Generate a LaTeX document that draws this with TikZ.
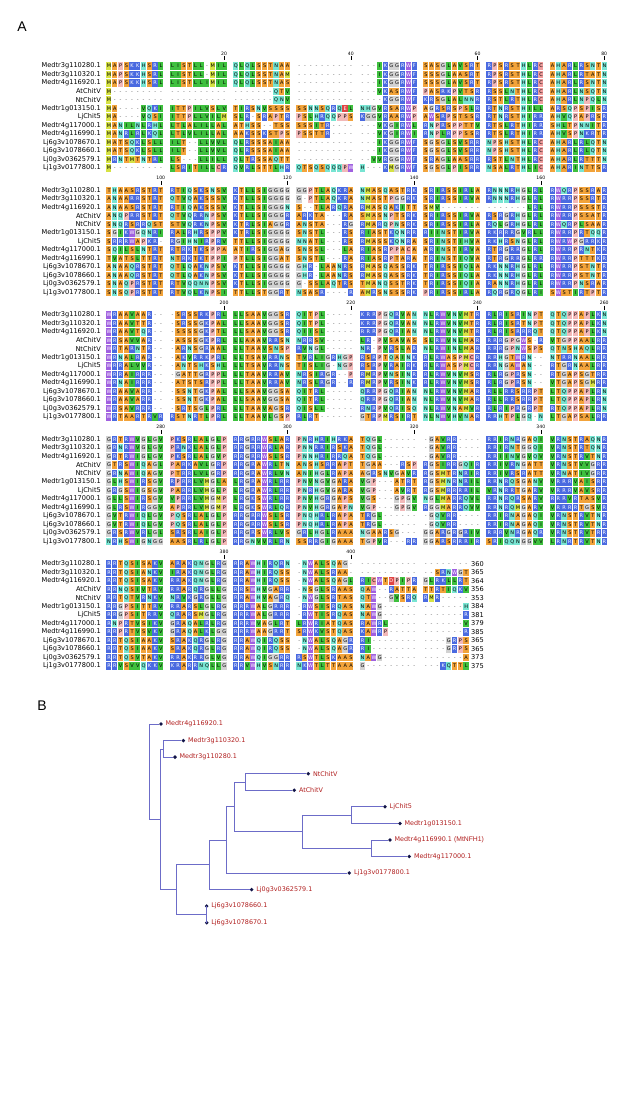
\documentclass[tikz,border=0pt]{standalone}
\usepackage{fontspec}
\setmainfont{DejaVu Sans}
\newfontfamily\panelfont{Liberation Sans}
\usetikzlibrary{positioning}

\newcommand\rescolor[3]{\definecolor{res#1}{HTML}{#2}\colorlet{txt#1}{#3}}
\rescolor{A}{F2A33A}{black}
\rescolor{S}{F2A33A}{black}
\rescolor{T}{F2A33A}{black}
\rescolor{N}{78E4D2}{black}
\rescolor{Q}{78E4D2}{black}
\rescolor{H}{78E4D2}{black}
\rescolor{Y}{78E4D2}{black}
\rescolor{G}{D2D2D2}{black}
\rescolor{P}{F2B8B8}{black}
\rescolor{C}{F09C9C}{black}
\rescolor{L}{3EC03E}{black}
\rescolor{I}{3EC03E}{black}
\rescolor{V}{3EC03E}{black}
\rescolor{M}{D6E244}{black}
\rescolor{F}{4A6AE0}{white}
\rescolor{K}{4A6AE0}{white}
\rescolor{R}{4A6AE0}{white}
\rescolor{D}{E04444}{white}
\rescolor{E}{E04444}{white}
\rescolor{W}{A060E0}{white}
\definecolor{treeline}{HTML}{6C6CC8}
\definecolor{treedot}{HTML}{121448}
\definecolor{treelabel}{HTML}{B01E1E}

\newcount\rescol
\newcount\grpcnt
\newcount\grpidx
\newdimen\cellx
\newdimen\celly
\newcommand\blocky{0}
\newcommand\setblock[1]{\renewcommand\blocky{#1}}
\newcommand\alnrow[3]{%
  \pgfmathsetmacro\rowy{\blocky+(#1-1)*8.5}%
  \pgfmathsetlength\celly{-(\rowy+3.9)*1pt}%
  \node[seqname] at (101,\rowy) {#2};%
  \global\rescol=0 \global\grpcnt=0 \global\grpidx=0
  \begin{pgfscope}\cellloop#3\relax\end{pgfscope}%
  \node[seqtext] at (106,\rowy+1.8) {\global\grpcnt=0 \charloop#3\relax};}
\def\cellloop#1{\ifx\relax#1\else\drawcell#1\expandafter\cellloop\fi}
\def\drawcell#1{%
  \cellx=5.76pt
  \multiply\cellx by \numexpr\rescol+\grpidx\relax
  \advance\cellx by 106.28pt
  \ifx-#1\else
    \pgfsetfillcolor{res#1}%
    \pgfpathrectangle{\pgfqpoint{\cellx}{\celly}}{\pgfqpoint{5.2pt}{7.8pt}}%
    \pgfusepath{fill}%
  \fi
  \global\advance\rescol by 1
  \global\advance\grpcnt by 1
  \ifnum\grpcnt=10 \global\grpcnt=0 \global\advance\grpidx by 1 \fi}
\def\charloop#1{\ifx\relax#1\else\drawch#1\expandafter\charloop\fi}
\def\drawch#1{%
  \hbox to 5.76pt{\hss\ifx-#1\textcolor{black!70}{-}\else\textcolor{txt#1}{#1}\fi\hss}%
  \global\advance\grpcnt by 1
  \ifnum\grpcnt=10 \global\grpcnt=0 \kern5.76pt\fi}

\begin{document}
\begin{tikzpicture}[x=1pt,y=-1pt,
    seqname/.style={anchor=east,inner sep=0,font=\fontsize{6.6}{7}\selectfont},
    seqtext/.style={anchor=base west,inner sep=0,font=\fontsize{5}{5}\selectfont},
    ticklabel/.style={inner sep=0,font=\fontsize{4.6}{5}\selectfont},
    tickmark/.style={line width=0.4pt},
    endnum/.style={anchor=west,inner sep=0,font=\fontsize{6.6}{7}\selectfont},
    panel/.style={inner sep=0,font=\panelfont\fontsize{14}{14}\selectfont},
    branch/.style={draw=treeline,line width=0.7pt},
    leaf/.style={circle,fill=treedot,inner sep=0,minimum size=3.8pt},
    leaflabel/.style={inner sep=0,text=treelabel,font=\fontsize{6.4}{7}\selectfont}
    ]
  \useasboundingbox (0,0) rectangle (617,1105);
  \node[panel] (panelA) at (22,27) {A};
  \node[panel] (panelB) at (42,705.5) {B};

  \foreach \y/\c/\t in {66/20/20,66/40/40,66/60/60,66/80/80,
      190.5/10/100,190.5/30/120,190.5/50/140,190.5/70/160,
      315/20/200,315/40/220,315/60/240,315/80/260,
      439.5/10/280,439.5/30/300,439.5/50/320,439.5/70/340,
      564/20/380,564/40/400} {
    \pgfmathsetmacro\tx{108.88+(\c-1+floor((\c-1)/10))*5.76}
    \draw[tickmark] (\tx,\y-9.5) -- (\tx,\y-5.5);
    \node[ticklabel] at (\tx,\y-12.5) {\t};
  }

  \setblock{66}
  \alnrow{1}{Medtr3g110280.1}{MAPSKKHSRL LISTLL-MIL QLQLSSTNAA ---------- ---IKGGRWF SASGLAVSRT RPSRSTHLRC AHARLRSNTN}
  \alnrow{2}{Medtr3g110320.1}{MAPSKKHSRL LISTLL-MIL QLQLSSTNAM ---------- ---IKGGRWF SSSGLAASRT RPSRSTHLRC AHARLRTATN}
  \alnrow{3}{Medtr4g116920.1}{MAPSKKHSRL LISTLLIMIL QLQLSSTNAS ---------- ---IKGGRWF SSSGLAVSRT RPSRSTHLRC AHARLRSNTN}
  \alnrow{4}{AtChitV}{M--------- ---------- -------QTV ---------- ---VKASRWF PASRKPVTSR RSSLNTHLRC AHARLNSQTN}
  \alnrow{5}{NtChitV}{M--------- ---------- -------QNV ---------- ----KGGRWF KRSGLALNNR RSTLRTHLRC AHARLNPQLN}
  \alnrow{6}{Medtr1g013150.1}{MA----VQKI ITTPILVSLV TIRSNVSSSS SSNNSQRQEL NHGVRSARWP AGRSRSPSLR RTNRSTHILL ARSQPSPISR}
  \alnrow{7}{LjChit5}{MA----VQSI ITTPLLVILM SLR-SRAPTR PSLHRQQPPS KGGVRAARWP AWSRPSTSSR RTNRSTHIRR AHVQPAPRSR}
  \alnrow{8}{Medtr4g117000.1}{MANILNLRHL LTLALILLAL ATHSS--TSS SSSITR---- ---VKGIRWL RNPRSPPTTV RTSLRTHIRR SHLTPNNITR}
  \alnrow{9}{Medtr4g116990.1}{MANRLRLKQL LTLVLILLAL AAKSSKSTPS PSSTTR---- ---VKGIRWI RNPLRPPSSR RTSLRTHIRR AHVSPNKRTR}
  \alnrow{10}{Lj6g3v1078670.1}{MATSQKLSLL ILT--LLVVL QLRSSSAIAA ---------- ---IKGGRWF SGSGLSVSRR NPSHSTHLRC AHARLRLQTN}
  \alnrow{11}{Lj6g3v1078660.1}{MATSQKLSLL ILT--LLVVL QLRSSSAIAA ---------- ---IKGGRWF SGSGLSVSRR NPSHSTHLRC AHARLRLQTN}
  \alnrow{12}{Lj0g3v0362579.1}{MRNTMTNTRL LS---LLILL QLTRSSAQTT ---------- --VVRGGRWF SRAGLAASRR RSTLNTHLRC AHARLRTTTN}
  \alnrow{13}{Lj1g3v0177800.1}{M--------- LSRITILLCR QVRLSTTLHR QTSQSQQQPW H---KMGRWF SGSGLPISRR NSALRTHLIC AHARINTTSR}

  \setblock{190.5}
  \alnrow{1}{Medtr3g110280.1}{THAASRSTRT RTIQSKSNSV KTLLSIGGGG GGPTLAQKRA NMASQASTRK SRIRSSIRLA RNNNRHGLRL RWQRPSSRAR}
  \alnrow{2}{Medtr3g110320.1}{ANAARRSTRT QTVQAKSSSV KTLLSIGGGG G-PTLAQKRA NMASTPGGRK SRIRSSIRVA RNNNRHGLRL RWRRPSSRTR}
  \alnrow{3}{Medtr4g116920.1}{ANAASRSTRT RTIQAKSSSV KTLLSIGGGN S--TLARQRA RMASQAKITT SMV------- -------LRL RWRRPSSSTR}
  \alnrow{4}{AtChitV}{ANQPRRSTRT QTVQRRNPSV KTLLSIGGGR ARKTA---RA SMASNPTSRK SRIRSSIRVA RSRGRHGLRL RWRRPSSATR}
  \alnrow{5}{NtChitV}{SNQRSRRQST STVQRKNPSV KTRLSIAGGR ANSTA---RG RMARQPNSRK SRIRSSIRLA RQLGRHGLRL RWQRPLSAAR}
  \alnrow{6}{Medtr1g013150.1}{SGIKWGQNRI RALRHRSPPV KTRLSIGGGG SNSTL---RS RIASTKQNRR RIINSTIRVA RKRRRGVRLL RWRRPRTQQR}
  \alnrow{7}{LjChit5}{SRRRWAPKR- RGIHNIRPRV TTLLSIGGGG NNATL---RS RMASSKQNRA SRINSTIHVA RKHRSNGLRL RWRWPGRRKR}
  \alnrow{8}{Medtr4g117000.1}{SQILSLNTRT RTRKTKSPPA ATIRSIGGAG SNSSL---LA RIASRPPACA ARINSTIRVA RTRGRRGLRL RWRRPRNTKR}
  \alnrow{9}{Medtr4g116990.1}{TVATSLTTRT NTRKTKTPPI PTLLSIGGAT SNSTL---RA RIASRPTARA TRINSTIQVA RTRGRRGLRR RWRRPTTTKR}
  \alnrow{10}{Lj6g3v1078670.1}{ANAAQRSTRT QTLQAKNPSV KTLLSIGGGG GHR-LAANRS RMASQASSRK TRIRSSIQLA RKNNRHGLRL RWRRPSTNTR}
  \alnrow{11}{Lj6g3v1078660.1}{ANAAQRSTRT QTLQAKNPSV KTLLSIGGGG GHR-LAANRS RMASQASSRK TRIRSSIQLA RKNNRHGLRL RWRRPSTNTR}
  \alnrow{12}{Lj0g3v0362579.1}{SNAQPRSTRT RTVQQNNPSV KTLLSIGGGG G-SSLAQTRS TMANQSSTRK TRIRSSIQIA RANNRHGLRL RWRRPNSRAR}
  \alnrow{13}{Lj1g3v0177800.1}{SNSQPRSTRT RTVQLKNPSI TTLLSTGGRT NSASR----R AMRSNSSSRK PRIRSSIRLA RQRGRQGLRI SWSTIRTPTR}

  \setblock{315}
  \alnrow{1}{Medtr3g110280.1}{WRAAVAAR-- -SRSSRKPRL LLSAAVGGSR QITPL----- KRRPGQRVAN NLRWVNVMTR RLRISRINPT QTQPPAPLKN}
  \alnrow{2}{Medtr3g110320.1}{WRAAVTTR-- -SRSSGKPAL LLSAAVGGSR QITPL----- KRRPGQRVAN NLRWVNVMTR RLRISRTNPT QTQPPAPLKN}
  \alnrow{3}{Medtr4g116920.1}{WRAAVTQR-- -SSSSGKPTL LLSAAVGGSR QIISL----- RRRPGQRIAN NLRWVNVMTR RLRISRRRQT QTQPPAPLKN}
  \alnrow{4}{AtChitV}{WRSAVVAR-- -ASSSGKPRL LLAAAVRRSN NRRSV----- LR-PVSAVAS SLRWVNLMAR RRRGPGWS-R VTGPPAALRR}
  \alnrow{5}{NtChitV}{WRTARNTR-- -ARNSGRAAL LLTAAVSNSP RVNGL----- NR-PVRSLAR NLRWINLMAR RRRGPNWSPS QTNSHAQLRR}
  \alnrow{6}{Medtr1g013150.1}{WRNALRAR-- -AKVRRKPRL LLTSAVRRNS TVRLIGRHGP RSRPTQAINK RLRWASPMCR RRHGTWRN-- NTRRNAALRR}
  \alnrow{7}{LjChit5}{WRRALVVR-- -ANTSHKSHL LLTSAVRRNS TISLIG-NGP RSRPVRAIRK RLRWASPMCR RRNGAWAN-- RTGRNAALRR}
  \alnrow{8}{Medtr4g117000.1}{WRRAIRRR-- -GATTGRPPL LLTAAVRRAV NRSIRGR--P RMRPVNSINR RLRWVNVMSR RLRGPRSN-- RTGAPSGTRR}
  \alnrow{9}{Medtr4g116990.1}{WRNAIRRR-- -ATSTSRPPL LLTAAVRRAV NRSLRGR--R RMRPVRSINK RLRWVNVMSR RLRGPRSN-- VTGAPSGMRR}
  \alnrow{10}{Lj6g3v1078670.1}{WRAAVARR-- -SSNTGKPAL LLSAAVGGSA QITRL----- QRRPGQRIAN NLRWVNVMAR RLLRRSRRPT LTQPPAPLRN}
  \alnrow{11}{Lj6g3v1078660.1}{WRAAVARR-- -SSNTGKPAL LLSAAVGGSA QITRL----- QRRPGQRIAN NLRWVNVMAR RLLRRSRRPT LTQPPAPLRN}
  \alnrow{12}{Lj0g3v0362579.1}{WRSAVRRR-- -SRTSGLPRL LLTAAVAGSR QISLL----- RNRPVQRISQ NLRWVNAMVR RLRIPRGRPT RTQPPAPLRN}
  \alnrow{13}{Lj1g3v0177800.1}{WRTAARTRVR RSTNRTLPRL LLTAAVLGSP RLRT------ GTRPMRSIRT NLNWVHVNAR RRHTPLGQ-N LTGAPSALRR}

  \setblock{439.5}
  \alnrow{1}{Medtr3g110280.1}{GRTRWVGLGV PKSRLALGLP RRGRRWSLAR PNRHRIHRKA TQGL------ -GAVRR---- RRIRNRGAQI VRNSTRAQNR}
  \alnrow{2}{Medtr3g110320.1}{GRNRWVGLGV PRNKLALGLP RRGRRWRLAR PNNRRIRSKA TQGL------ -GAVRR---- RRIRNTGGQI VRNSTRTQNR}
  \alnrow{3}{Medtr4g116920.1}{GRTRWIGLGV PKSRLALGVP RRGRRWSLSR PNNHRIRRQA TQGL------ -GAVRR---- RRIINVGVQV VRNSTRVTNR}
  \alnrow{4}{AtChitV}{GTRSWIQAGL PARKAVLGRP RRGRAWRLTN ANSHSRRAPT TGAA---RSP RGSIRRGQIR RRIVRNGATT VRNSTVVGRR}
  \alnrow{5}{NtChitV}{GRNAWIQAGV PTRRLVLGRP RRGRAWRLVN ANIHGLRAPA AGRSNVGAVR RGSMTRNRIR RRIVRSRATT VRNATIVGRR}
  \alnrow{6}{Medtr1g013150.1}{GLHSWIRSGV RPRRLVMGLA LRGRAWRLRR PNVNGVGARA VGP---ATRT RGSMNRNRIL RRNRQSGANV VRRRVAISRR}
  \alnrow{7}{LjChit5}{GRGSWIGSGV PARRLVMGLP LRGRAWRLRR PNRHGVGARA VGP---AVRT RGSMRRRRIL VRNRRTGARV VRRRVAVSRR}
  \alnrow{8}{Medtr4g117000.1}{GLLSWIRSGV VPRRLVMGMP LRGKSWRLRR PNVHGRGAPS VGS---GPGV NGLMARRQVL RRNRQRSARV RRRVRTASVR}
  \alnrow{9}{Medtr4g116990.1}{GLRSWIRGGV APRRLVMGMP LRGKSWRLQR PNVHGRGAPN VGP---GPGV RGGMARRQVV RRNRQMGARV VRRRRTGSVR}
  \alnrow{10}{Lj6g3v1078670.1}{GVTRWIQLGV PQSRLALGLP RRGRRWSLSR PNQHRLRAPA TRGL------ -GQVRR---- RRIRNAGAQI VRNSTRVTNR}
  \alnrow{11}{Lj6g3v1078660.1}{GVTRWIQLGV PQSRLALGLP RRGRRWSLSR PNQHRLRAPA TRGL------ -GQVRR---- RRIRNAGAQI VRNSTRVTNR}
  \alnrow{12}{Lj0g3v0362579.1}{GRSRWVRLGL SRSRLAIGLP RRGRSWRLVS GRLHGLRAAA NGAARSG--- GGARGRGRIV RRRVNRGAQR VRNSTRVTRR}
  \alnrow{13}{Lj1g3v0177800.1}{NRHSWIGNGG AASRLRLGLP RRGNVVRLRN SSRRGIGAAA TGPVR---RR GGARSRRRIR SRIQQNGGVV LRNRTRVTNR}

  \setblock{564}
  \alnrow{1}{Medtr3g110280.1}{RRTQSISAKV ARAKQNGLRG RRAWHIRQRN -NWALSQAG- ---------- --------}
  \alnrow{2}{Medtr3g110320.1}{RRTQSIANKV IRAKQNGLRG RRAWHIRQSS -NWALSRAA- ---------- --SRNWGT}
  \alnrow{3}{Medtr4g116920.1}{RRTQSISAKV RRAKQNGLRG RRAWHIRQSS -NWALSQAGL RICWTDPIPR GLRKLLRT}
  \alnrow{4}{AtChitV}{RRNQSIVTRV RRARQRGLLG RRSWHVGARR -NSGLSRAAS QAW--RATTA TTRTIQKV}
  \alnrow{5}{NtChitV}{RRTQTVRNKV NRVKGRGLLG RRAWHVAGRQ -NWGLSRTAS QTW--GVSRQ RMR-----}
  \alnrow{6}{Medtr1g013150.1}{RRGPSITTRV RRARSLGLRG RRRWALGRRR -RWSISRQAS NAWG------ -------H}
  \alnrow{7}{LjChit5}{RRGPSITRRV QRARSMGLRG RRRWALGRRR -RWTISRQAS NAWG------ -------R}
  \alnrow{8}{Medtr4g117000.1}{RNPRTVSIKV GRAQALRLRG RRRWVAGLRT LRWRIATQAS RAWRL----- -------V}
  \alnrow{9}{Medtr4g116990.1}{RRPRTVSVKV GRAQALKLGG RRRWAAGRRT SRWKVSTQAS KAWRP----- -------R}
  \alnrow{10}{Lj6g3v1078670.1}{RRTQSIAAKV SRAKQRGLRG RRAWQIRQSS -NWALSQAGR RI-------- ----GRPS}
  \alnrow{11}{Lj6g3v1078660.1}{RRTQSIAAKV SRAKQRGLRG RRAWQIRQSS -NWALSQAGR RI-------- ----GRPS}
  \alnrow{12}{Lj0g3v0362579.1}{RRTQSVTAKV RRAKRRGLVG RRAWQIGGRR RSWTLSKAAS NAWG------ -------A}
  \alnrow{13}{Lj1g3v0177800.1}{RRVSVVQKKV KRARRNQLLG RRVWHVSNRR NKWTLTTAAA G--------- ---KQTTL}
  \foreach \r/\n in {1/360,2/365,3/364,4/356,5/353,6/384,7/381,8/379,9/385,10/365,11/365,12/373,13/375}
    \node[endnum] at (471,{564+(\r-1)*8.5}) {\n};

  \coordinate (root) at (149,771.6);
  \coordinate (n1) at (160,819.2);
  \coordinate (n2) at (163.3,748.85);
  \coordinate (n3) at (176.7,889.6);
  \coordinate (n4) at (209.3,864.75);
  \coordinate (n5) at (226.7,839.9);
  \coordinate (n6) at (234.3,806.8);
  \coordinate (n7) at (245.7,781.95);
  \coordinate (n8) at (302.7,831.65);
  \coordinate (n9) at (351,815.1);
  \coordinate (n10) at (371.3,848.2);
  \coordinate (nlj6) at (206.7,914.4);

  \node[leaf] (m4g920) at (161,724) {};
  \node[leaf] (m3g320) at (183.3,740.6) {};
  \node[leaf] (m3g280) at (175,757.1) {};
  \node[leaf] (ntchit) at (308.3,773.7) {};
  \node[leaf] (atchit) at (294.3,790.2) {};
  \node[leaf] (ljchit) at (385,806.8) {};
  \node[leaf] (m1g150) at (400,823.4) {};
  \node[leaf] (m4g990) at (390,839.9) {};
  \node[leaf] (m4g000) at (409.3,856.5) {};
  \node[leaf] (lj1g800) at (349.3,873) {};
  \node[leaf] (lj0g579) at (251.7,889.6) {};
  \node[leaf] (lj6g660) at (206.7,906.1) {};
  \node[leaf] (lj6g670) at (206.7,922.7) {};

  \draw[branch] (root) |- (m4g920);
  \draw[branch] (root) |- (n1);
  \draw[branch] (n1) |- (n2);
  \draw[branch] (n1) |- (n3);
  \draw[branch] (n2) |- (m3g320);
  \draw[branch] (n2) |- (m3g280);
  \draw[branch] (n3) |- (n4);
  \draw[branch] (n3) |- (nlj6);
  \draw[branch] (nlj6) |- (lj6g660);
  \draw[branch] (nlj6) |- (lj6g670);
  \draw[branch] (n4) |- (n5);
  \draw[branch] (n4) |- (lj0g579);
  \draw[branch] (n5) |- (n6);
  \draw[branch] (n5) |- (lj1g800);
  \draw[branch] (n6) |- (n7);
  \draw[branch] (n6) |- (n8);
  \draw[branch] (n7) |- (ntchit);
  \draw[branch] (n7) |- (atchit);
  \draw[branch] (n8) |- (n9);
  \draw[branch] (n8) |- (n10);
  \draw[branch] (n9) |- (ljchit);
  \draw[branch] (n9) |- (m1g150);
  \draw[branch] (n10) |- (m4g990);
  \draw[branch] (n10) |- (m4g000);

  \node[leaflabel,right=2.4pt of m4g920] (m4g920-l) {Medtr4g116920.1};
  \node[leaflabel,right=2.4pt of m3g320] (m3g320-l) {Medtr3g110320.1};
  \node[leaflabel,right=2.4pt of m3g280] (m3g280-l) {Medtr3g110280.1};
  \node[leaflabel,right=2.4pt of ntchit] (ntchit-l) {NtChitV};
  \node[leaflabel,right=2.4pt of atchit] (atchit-l) {AtChitV};
  \node[leaflabel,right=2.4pt of ljchit] (ljchit-l) {LjChit5};
  \node[leaflabel,right=2.4pt of m1g150] (m1g150-l) {Medtr1g013150.1};
  \node[leaflabel,right=2.4pt of m4g990] (m4g990-l) {Medtr4g116990.1 {\panelfont\fontsize{6.8}{8}\selectfont(MtNFH1)}};
  \node[leaflabel,right=2.4pt of m4g000] (m4g000-l) {Medtr4g117000.1};
  \node[leaflabel,right=2.4pt of lj1g800] (lj1g800-l) {Lj1g3v0177800.1};
  \node[leaflabel,right=2.4pt of lj0g579] (lj0g579-l) {Lj0g3v0362579.1};
  \node[leaflabel,right=2.4pt of lj6g660] (lj6g660-l) {Lj6g3v1078660.1};
  \node[leaflabel,right=2.4pt of lj6g670] (lj6g670-l) {Lj6g3v1078670.1};
\end{tikzpicture}
\end{document}
